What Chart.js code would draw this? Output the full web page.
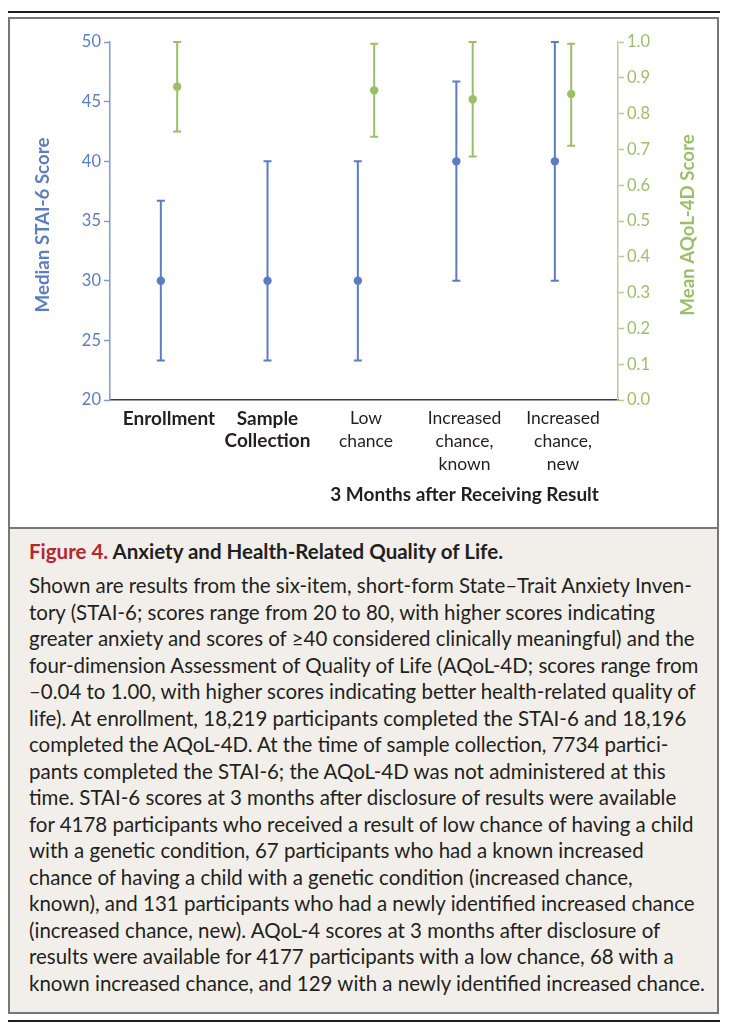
<!DOCTYPE html>
<html>
<head>
<meta charset="utf-8">
<script src="https://cdn.jsdelivr.net/npm/chart.js@4.4.3/dist/chart.umd.min.js"></script>
<style>
    body { margin: 0; background: #fff; width: 734px; height: 1030px; position: relative; overflow: hidden; font-family: Lato, 'Noto Sans', sans-serif; color: #231f20; }
    .rule { position: absolute; left: 8px; width: 712px; height: 2px; background: #1e1e1e; }
    #chartBox { position: absolute; left: 8px; top: 17px; width: 707px; height: 508px; border: 2px solid #777; background: #fff; }
    #chartBox canvas { display: block; }
    #caption { position: absolute; left: 8px; top: 529px; width: 707px; height: 483px; border: 2px solid #777; border-top: none; background: #f2efeb; }
    #caption .inner { padding: 9px 0 0 19px; }
    #capTitle { font-weight: bold; line-height: 26px; margin-bottom: 8px; white-space: nowrap; }
    #capTitle .fig { color: #b8262d; }
    .line { line-height: 26.5px; white-space: nowrap; }
</style>
</head>
<body>
<div class="rule" style="top:11px"></div>
<div id="chartBox"><canvas id="chart" width="707" height="508"></canvas></div>
<div id="caption"><div class="inner">
    <div id="capTitle"><span class="fig">Figure 4.</span> Anxiety and Health-Related Quality of Life.</div>
    <div id="capBody"></div>
</div></div>
<div class="rule" style="top:1020px"></div>
<script>
// categories on the x axis (multi-line labels)
const categories = [['Enrollment'], ['Sample', 'Collection'], ['Low', 'chance'], ['Increased', 'chance,', 'known'], ['Increased', 'chance,', 'new']];
const boldCategories = [true, true, false, false, false];
const groupTitle = '3 Months after Receiving Result';

// STAI-6 median with interquartile range (left axis)
const staiMedian = [30, 30, 30, 40, 40];
const staiLow = [23.3, 23.3, 23.3, 30, 30];
const staiHigh = [36.7, 40, 40, 46.7, 50];

// AQoL-4D mean with spread (right axis); not collected at sample collection
const aqolMean = [0.875, null, 0.865, 0.84, 0.855];
const aqolLow = [0.75, null, 0.735, 0.68, 0.71];
const aqolHigh = [1.0, null, 0.995, 1.0, 0.995];

const staiTicks = [20, 25, 30, 35, 40, 45, 50];
const aqolTicks = [0.0, 0.1, 0.2, 0.3, 0.4, 0.5, 0.6, 0.7, 0.8, 0.9, 1.0];

const captionLines = [
    'Shown are results from the six-item, short-form State\u2013Trait Anxiety Inven-',
    'tory (STAI-6; scores range from 20 to 80, with higher scores indicating',
    'greater anxiety and scores of \u226540 considered clinically meaningful) and the',
    'four-dimension Assessment of Quality of Life (AQoL-4D; scores range from',
    '\u20130.04 to 1.00, with higher scores indicating better health-related quality of',
    'life). At enrollment, 18,219 participants completed the STAI-6 and 18,196',
    'completed the AQoL-4D. At the time of sample collection, 7734 partici-',
    'pants completed the STAI-6; the AQoL-4D was not administered at this',
    'time. STAI-6 scores at 3 months after disclosure of results were available',
    'for 4178 participants who received a result of low chance of having a child',
    'with a genetic condition, 67 participants who had a known increased',
    'chance of having a child with a genetic condition (increased chance,',
    'known), and 131 participants who had a newly identified increased chance',
    '(increased chance, new). AQoL-4 scores at 3 months after disclosure of',
    'results were available for 4177 participants with a low chance, 68 with a',
    'known increased chance, and 129 with a newly identified increased chance.'
];

const BLUE = '#5a7dc3';
const BLUE_AXIS = '#7f9cd2';
const GREEN = '#9bbf68';
const GREEN_AXIS = '#b5cf8f';
const FONT = 'Lato, "Noto Sans", sans-serif';
const PAIR_OFFSET = 0.083;

// caption text, sized to the reference line widths
const body = document.getElementById('capBody');
captionLines.forEach(t => {
    const d = document.createElement('div');
    d.className = 'line';
    d.textContent = t;
    body.appendChild(d);
});
function fitWidth(el, target, base) {
    el.style.fontSize = base + 'px';
    el.style.display = 'inline-block';
    const w = el.getBoundingClientRect().width;
    el.style.display = '';
    el.style.fontSize = (base * target / w).toFixed(2) + 'px';
}
fitWidth(document.getElementById('capTitle'), 474, 19);
fitWidth(body.firstChild, 663, 19);
const bodySize = body.firstChild.style.fontSize;
Array.from(body.children).forEach(d => d.style.fontSize = bodySize);

const staiPoints = staiMedian.map((v, i) => ({ x: i - (aqolMean[i] !== null ? PAIR_OFFSET : 0), y: v, lo: staiLow[i], hi: staiHigh[i] }));
const aqolPoints = aqolMean.map((v, i) => v === null ? null : ({ x: i + PAIR_OFFSET, y: v, lo: aqolLow[i], hi: aqolHigh[i] })).filter(p => p);

const errorBars = {
    id: 'errorBars',
    beforeDatasetsDraw(chart) {
        const ctx = chart.ctx;
        chart.data.datasets.forEach((ds, di) => {
            const meta = chart.getDatasetMeta(di);
            const yScale = chart.scales[ds.yAxisID];
            ctx.save();
            ctx.strokeStyle = ds.backgroundColor;
            ctx.lineWidth = 2;
            meta.data.forEach((pt, i) => {
                const p = ds.data[i];
                const yl = yScale.getPixelForValue(p.lo);
                const yh = yScale.getPixelForValue(p.hi);
                ctx.beginPath();
                ctx.moveTo(pt.x, yl); ctx.lineTo(pt.x, yh);
                ctx.moveTo(pt.x - 4, yl); ctx.lineTo(pt.x + 4, yl);
                ctx.moveTo(pt.x - 4, yh); ctx.lineTo(pt.x + 4, yh);
                ctx.stroke();
            });
            ctx.restore();
        });
    }
};

const titles = {
    id: 'titles',
    afterDraw(chart) {
        const ctx = chart.ctx;
        const area = chart.chartArea;
        const x = chart.scales.x;
        const midY = (area.top + area.bottom) / 2 + 4;
        ctx.save();
        ctx.textAlign = 'center';
        ctx.textBaseline = 'middle';
        ctx.font = 'bold 19px ' + FONT;
        ctx.fillStyle = '#231f20';
        ctx.fillText(groupTitle, (x.getPixelForValue(2) + x.getPixelForValue(4)) / 2, 476);

        ctx.font = 'bold 18.7px ' + FONT;
        ctx.fillStyle = BLUE;
        ctx.translate(33, midY);
        ctx.rotate(-Math.PI / 2);
        ctx.fillText('Median STAI-6 Score', 0, 0);
        ctx.restore();

        ctx.save();
        ctx.textAlign = 'center';
        ctx.textBaseline = 'middle';
        ctx.font = 'bold 18.7px ' + FONT;
        ctx.fillStyle = GREEN;
        ctx.translate(678, midY);
        ctx.rotate(-Math.PI / 2);
        ctx.fillText('Mean AQoL-4D Score', 0, 0);
        ctx.restore();
    }
};

new Chart(document.getElementById('chart'), {
    type: 'scatter',
    data: {
        datasets: [
            { label: 'STAI-6', data: staiPoints, yAxisID: 'y', backgroundColor: BLUE, pointRadius: 4.2, pointBorderWidth: 0 },
            { label: 'AQoL-4D', data: aqolPoints, yAxisID: 'y2', backgroundColor: GREEN, pointRadius: 4.2, pointBorderWidth: 0 }
        ]
    },
    options: {
        responsive: false,
        animation: false,
        layout: { padding: { top: 23, left: 0, right: 0, bottom: 0 } },
        plugins: { legend: { display: false }, tooltip: { enabled: false } },
        scales: {
            x: {
                type: 'linear',
                min: -0.599,
                max: 4.558,
                afterBuildTicks: scale => { scale.ticks = categories.map((c, i) => ({ value: i })); },
                afterFit: scale => { scale.height = 127; },
                grid: { display: false, drawTicks: false },
                border: { display: true, color: '#3a3a3a', width: 1.5 },
                ticks: {
                    autoSkip: false,
                    maxRotation: 0,
                    padding: 7,
                    color: '#231f20',
                    callback: v => categories[v],
                    font: ctx => boldCategories[ctx.index]
                        ? { family: FONT, size: 19, lineHeight: 1.2, weight: 'bold' }
                        : { family: FONT, size: 17.5, lineHeight: 1.3, weight: 'normal' }
                }
            },
            y: {
                position: 'left',
                min: 20,
                max: 50,
                afterBuildTicks: scale => { scale.ticks = staiTicks.map(v => ({ value: v })); },
                afterFit: scale => { scale.width = 100; },
                grid: { drawOnChartArea: false, drawTicks: true, tickLength: 6, tickWidth: 1.5, tickColor: BLUE_AXIS },
                border: { display: true, color: BLUE_AXIS, width: 1.5 },
                ticks: { color: BLUE, padding: 3, font: { family: FONT, size: 16.5 } }
            },
            y2: {
                position: 'right',
                min: 0,
                max: 1,
                afterBuildTicks: scale => { scale.ticks = aqolTicks.map(v => ({ value: v })); },
                afterFit: scale => { scale.width = 99; },
                grid: { drawOnChartArea: false, drawTicks: true, tickLength: 6, tickWidth: 1.5, tickColor: GREEN_AXIS },
                border: { display: true, color: GREEN_AXIS, width: 1.5 },
                ticks: { color: GREEN, padding: 3, font: { family: FONT, size: 16.5 }, callback: v => v.toFixed(1) }
            }
        }
    },
    plugins: [errorBars, titles]
});
</script>
</body>
</html>
